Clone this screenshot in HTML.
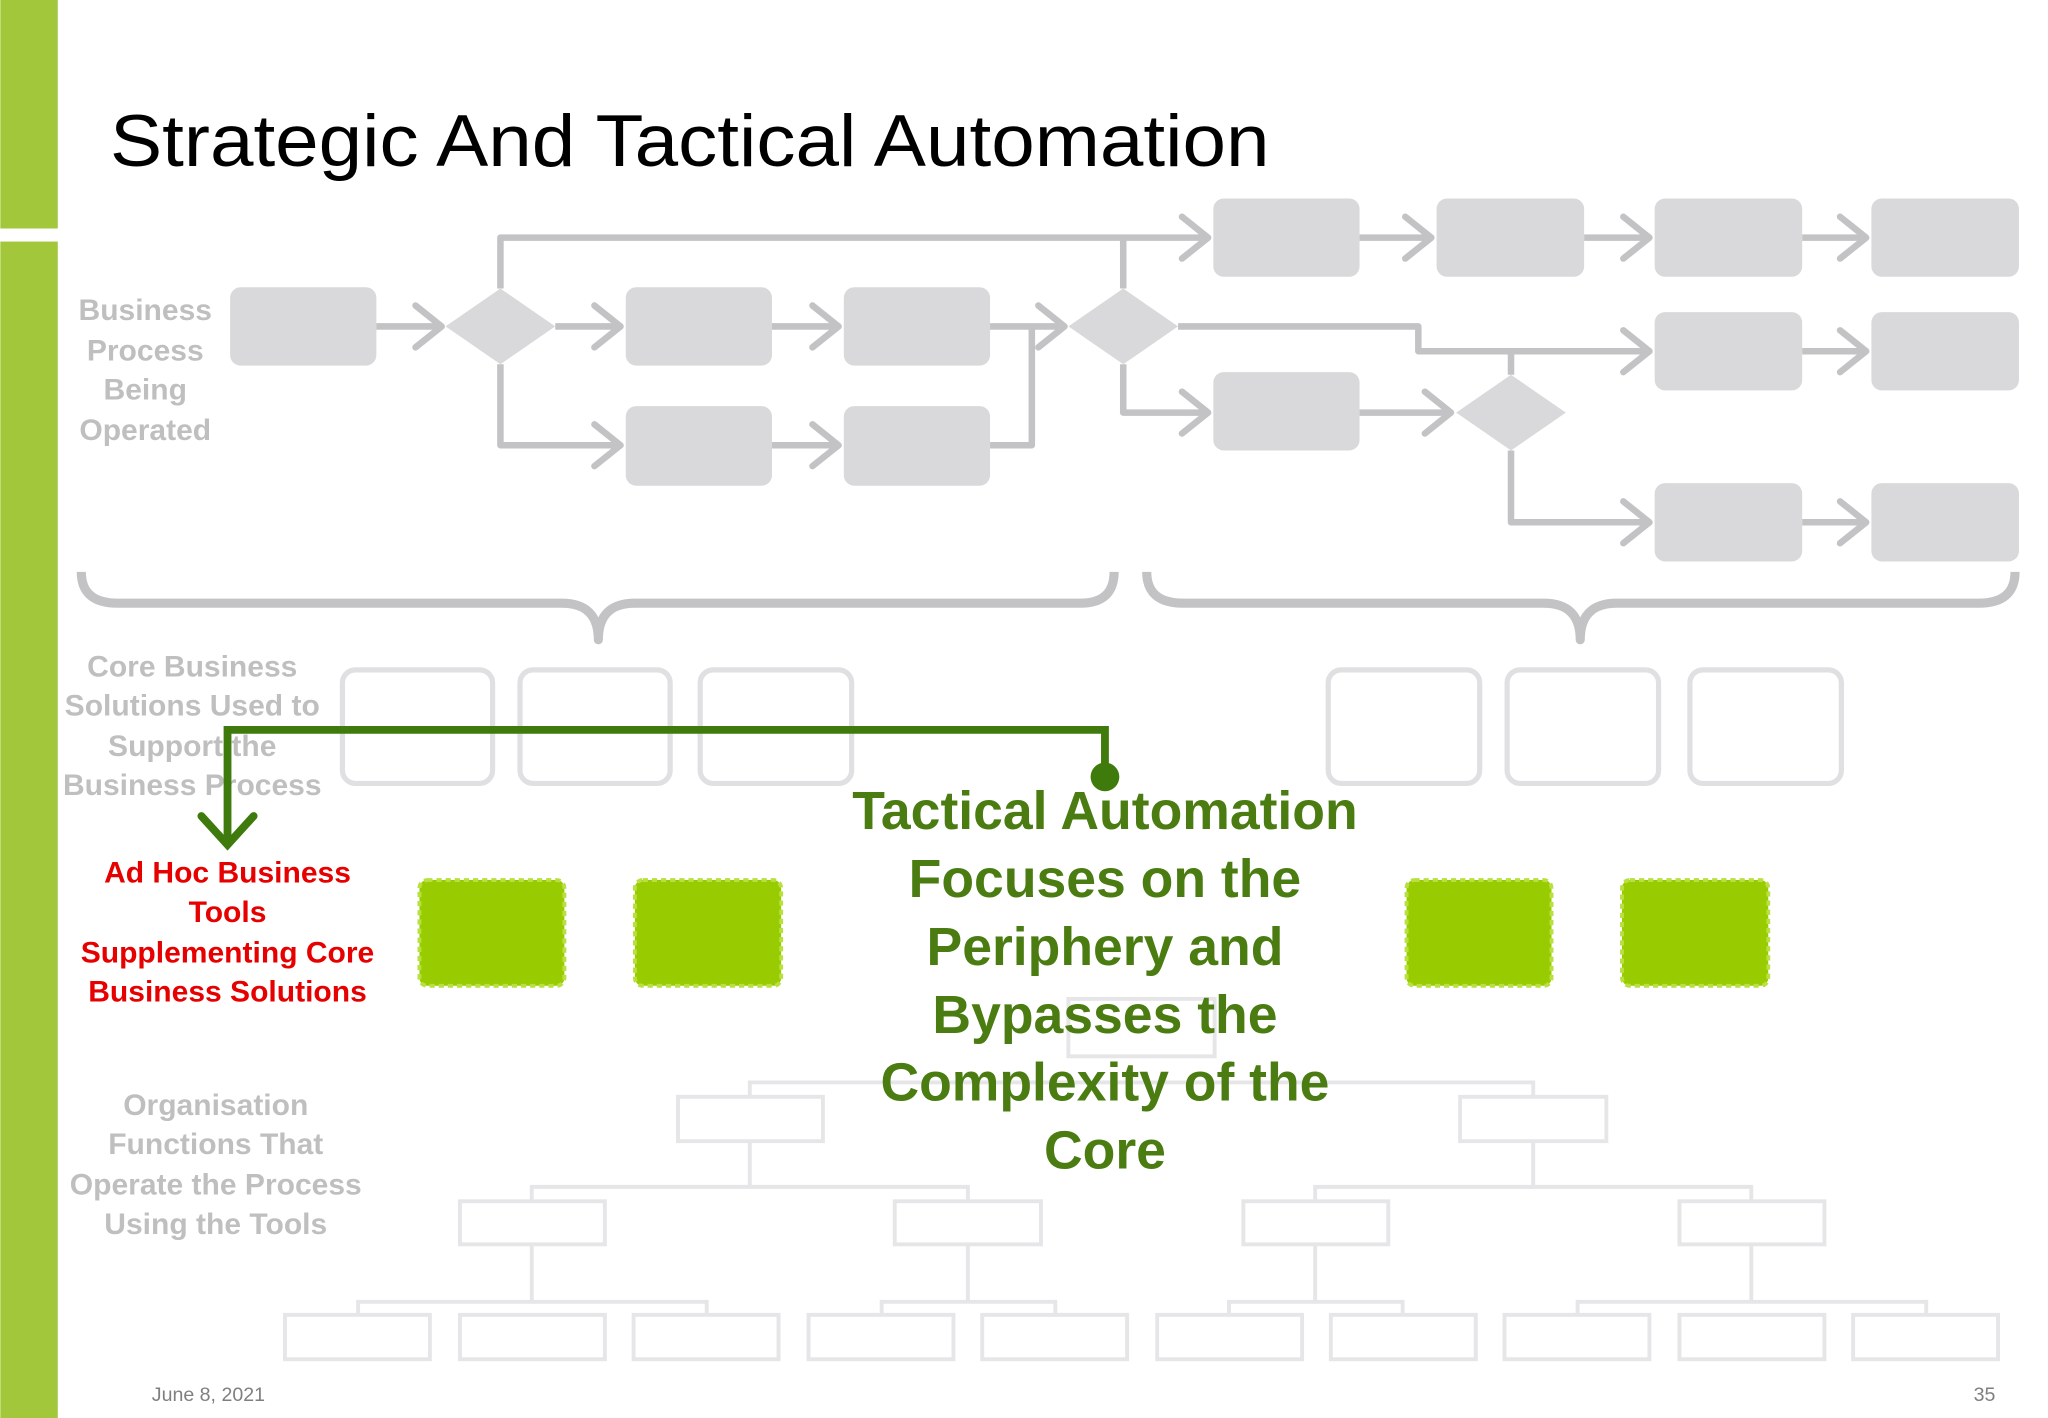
<!DOCTYPE html>
<html><head><meta charset="utf-8"><style>
html,body{margin:0;padding:0;background:#fff;}
svg{display:block;}
text{font-family:"Liberation Sans",sans-serif;}
</style></head><body>
<svg width="2048" height="1418" viewBox="0 0 1568 1086" xmlns="http://www.w3.org/2000/svg">
<rect x="0" y="0" width="1568" height="1086" fill="#fff"/>
<rect x="0" y="0" width="44" height="175" fill="#a2c73b"/>
<rect x="0" y="185" width="44" height="901" fill="#a2c73b"/>
<text x="84" y="127" font-size="56" fill="#000" textLength="888" lengthAdjust="spacingAndGlyphs">Strategic And Tactical Automation</text>

<!-- org chart (light) -->
<g stroke="#e6e6e8" stroke-width="3" fill="none">
<rect x="818" y="765" width="112" height="44"/>
<path d="M574 840V829H1174V840M574 874V909M407 920V909H741V920M1174 874V909M1007 920V909H1341V920"/>
<rect x="519" y="840" width="111" height="34"/><rect x="1118" y="840" width="112" height="34"/>
<rect x="352" y="920" width="111" height="33"/><rect x="685" y="920" width="112" height="33"/>
<rect x="952" y="920" width="111" height="33"/><rect x="1286" y="920" width="111" height="33"/>
<path d="M407 953V997M274 1007V997H541V1007M741 953V997M675 1007V997H808V1007M1007 953V997M941 1007V997H1074V1007M1341 953V997M1208 1007V997H1475V1007"/>
<rect x="218" y="1007" width="111" height="34"/><rect x="352" y="1007" width="111" height="34"/>
<rect x="485" y="1007" width="111" height="34"/><rect x="619" y="1007" width="111" height="34"/>
<rect x="752" y="1007" width="111" height="34"/><rect x="886" y="1007" width="111" height="34"/>
<rect x="1019" y="1007" width="111" height="34"/><rect x="1152" y="1007" width="111" height="34"/>
<rect x="1286" y="1007" width="111" height="34"/><rect x="1419" y="1007" width="111" height="34"/>
</g>

<!-- process -->
<g fill="#d9d9db">
<rect x="929" y="152" width="112" height="60" rx="8"/><rect x="1100" y="152" width="113" height="60" rx="8"/>
<rect x="1267" y="152" width="113" height="60" rx="8"/><rect x="1433" y="152" width="113" height="60" rx="8"/>
<rect x="176" y="220" width="112" height="60" rx="8"/>
<rect x="479" y="220" width="112" height="60" rx="8"/><rect x="646" y="220" width="112" height="60" rx="8"/>
<rect x="1267" y="239" width="113" height="60" rx="8"/><rect x="1433" y="239" width="113" height="60" rx="8"/>
<rect x="479" y="311" width="112" height="61" rx="8"/><rect x="646" y="311" width="112" height="61" rx="8"/>
<rect x="929" y="285" width="112" height="60" rx="8"/>
<rect x="1267" y="370" width="113" height="60" rx="8"/><rect x="1433" y="370" width="113" height="60" rx="8"/>
<polygon points="341,250 383,221 425,250 383,279"/>
<polygon points="818,250 860,221 902,250 860,279"/>
<polygon points="1115,316 1157,287 1199,316 1157,345"/>
</g>
<g stroke="#c3c3c5" stroke-width="5" fill="none" stroke-linejoin="round">
<path d="M288 250H338M425 250H475M383 221V182H925M860 221V182M383 279V341H475M591 250H642M591 341H642M758 250H815M758 341H790V250M902 250H1086V269H1263M860 279V316H925M1041 316H1111M1157 287V269M1157 345V400H1263M1041 182H1096M1213 182H1263M1380 182H1429M1380 269H1429M1380 400H1429"/>
<g stroke-linecap="round">
<path d="M318 234L338 250L318 266M455 234L475 250L455 266M455 325L475 341L455 357M622 234L642 250L622 266M622 325L642 341L622 357M795 234L815 250L795 266M905 166L925 182L905 198M905 300L925 316L905 332M1091 300L1111 316L1091 332M1076 166L1096 182L1076 198M1243 166L1263 182L1243 198M1409 166L1429 182L1409 198M1243 253L1263 269L1243 285M1409 253L1429 269L1409 285M1243 384L1263 400L1243 416M1409 384L1429 400L1409 416"/>
</g>
<path d="M62 438Q62 462 90 462H430Q458 462 458 490Q458 462 486 462H827Q853 462 853 438" stroke-width="7"/>
<path d="M878 438Q878 462 906 462H1182Q1210 462 1210 490Q1210 462 1238 462H1515Q1543 462 1543 438" stroke-width="7"/>
</g>

<g stroke="#e0e0e2" stroke-width="4" fill="none">
<rect x="262" y="513" width="115" height="87" rx="10"/><rect x="398" y="513" width="115" height="87" rx="10"/>
<rect x="536" y="513" width="116" height="87" rx="10"/><rect x="1017" y="513" width="116" height="87" rx="10"/>
<rect x="1154" y="513" width="116" height="87" rx="10"/><rect x="1294" y="513" width="116" height="87" rx="10"/>
</g>

<g font-size="23" font-weight="bold" fill="#bfbfbf" text-anchor="middle">
<text x="111" y="245">Business</text><text x="111" y="276">Process</text><text x="111" y="306">Being</text><text x="111" y="337">Operated</text>
<text x="147" y="518">Core Business</text><text x="147" y="548">Solutions Used to</text><text x="147" y="579">Support the</text><text x="147" y="609">Business Process</text>
<text x="165" y="854">Organisation</text><text x="165" y="884">Functions That</text><text x="165" y="915">Operate the Process</text><text x="165" y="945">Using the Tools</text>
</g>

<g fill="#99cc00" stroke="#b8e040" stroke-width="3" stroke-dasharray="4 3">
<rect x="321" y="674" width="111" height="81" rx="6"/><rect x="486" y="674" width="112" height="81" rx="6"/>
<rect x="1077" y="674" width="111" height="81" rx="6"/><rect x="1242" y="674" width="112" height="81" rx="6"/>
</g>

<g stroke="#3f7a0c" stroke-width="6" fill="none">
<path d="M846 595V559H174V645"/>
<path d="M154 625L174 647L194 625" stroke-linecap="round"/>
</g>
<circle cx="846" cy="595" r="11" fill="#3f7a0c"/>

<g font-size="23" font-weight="bold" fill="#e60000" text-anchor="middle">
<text x="174" y="676">Ad Hoc Business</text><text x="174" y="706">Tools</text><text x="174" y="737">Supplementing Core</text><text x="174" y="767">Business Solutions</text>
</g>

<g font-size="41" font-weight="bold" fill="#4a7c12" text-anchor="middle">
<text x="846" y="635">Tactical Automation</text><text x="846" y="687">Focuses on the</text><text x="846" y="739">Periphery and</text><text x="846" y="791">Bypasses the</text><text x="846" y="843">Complexity of the</text><text x="846" y="895">Core</text>
</g>

<text x="116" y="1073" font-size="15" fill="#7f7f7f">June 8, 2021</text>
<text x="1528" y="1073" font-size="15" fill="#7f7f7f" text-anchor="end">35</text>
</svg>
</body></html>
